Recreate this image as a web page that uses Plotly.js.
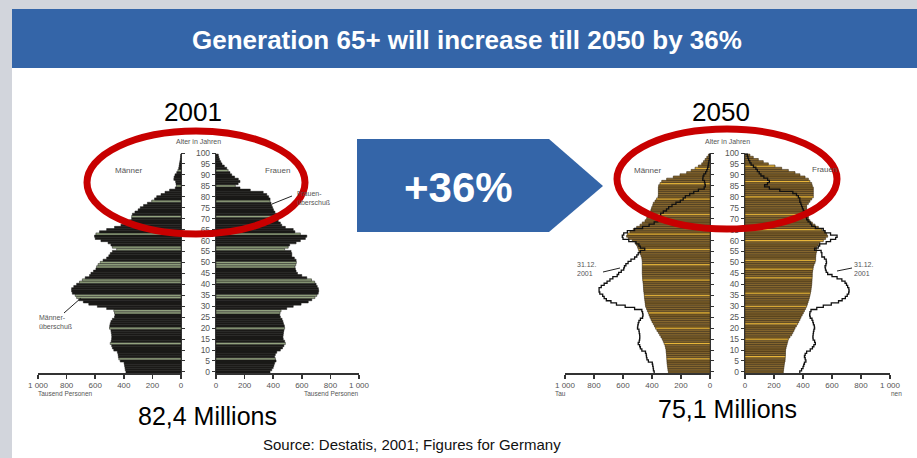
<!DOCTYPE html>
<html>
<head>
<meta charset="utf-8">
<script src="https://cdn.plot.ly/plotly-3.0.1.min.js"></script>
<style>
  html, body { margin: 0; padding: 0; background: #d2d5dc; }
  #chart { width: 917px; height: 458px; }
</style>
</head>
<body>
<div id="chart"></div>
<script>
// ---------------- DATA (thousand persons per single year of age) ----------------
const ages = Array.from({length: 100}, (_, i) => i); // 0..99
const ageTicks = [0,5,10,15,20,25,30,35,40,45,50,55,60,65,70,75,80,85,90,95,100];
const xTickVals = [0, 200, 400, 600, 800, 1000];
const xTickText = ['0', '200', '400', '600', '800', '1 000'];

const men2001 = [
  385,390,392,395,398, 425,435,438,440,445, 470,480,485,495,488, 485,484,485,488,490,
  500,498,495,490,480, 465,462,465,470,520, 585,645,683,715,730, 740,760,765,765,750,
  730,710,690,670,640, 630,612,595,590,580, 565,545,520,505,495, 480,450,480,490,510,
  560,600,605,595,570, 520,465,420,385,360, 345,345,340,322,300, 285,262,235,205,185,
  170,140,112,80,40, 32,35,38,50,48, 42,30,22,16,13, 11,8,5,3,2
];
const women2001 = [
  378,390,400,405,410, 420,415,410,415,425, 450,465,475,485,480, 470,468,470,472,475,
  480,478,472,468,462, 450,446,448,455,495, 540,595,645,670,692, 705,715,718,716,708,
  700,690,668,635,600, 570,560,555,552,558, 562,560,548,530,530, 525,480,505,515,560,
  590,625,635,590,552, 540,485,460,450,435, 425,420,425,412,402, 396,390,385,378,378,
  368,355,330,240,168, 135,155,168,156,130, 110,98,85,75,58, 42,33,25,20,16
];
const men2050 = [
  287,290,292,294,296, 297,298,299,300,302, 303,306,310,316,322, 329,338,347,356,366,
  375,383,391,400,407, 414,420,425,432,438, 444,446,448,450,452, 453,455,457,458,459,
  460,462,464,465,466, 467,467,467,467,467, 467,468,470,475,482, 490,494,499,506,517,
  536,563,575,568,552, 529,506,483,467,448, 437,431,425,414,407, 402,395,391,379,368,
  358,356,356,356,356, 354,345,333,299,253, 207,161,130,103,80, 57,45,34,22,11
];
const women2050 = [
  264,266,268,270,272, 276,277,278,279,279, 280,283,287,291,295, 299,310,322,330,338,
  345,354,363,371,379, 386,394,402,410,418, 425,430,435,440,444, 448,451,454,456,458,
  460,461,462,463,464, 464,466,469,471,476, 483,487,487,488,490, 494,494,494,506,517,
  540,556,570,563,552, 529,506,483,464,448, 437,437,437,425,425, 425,425,437,448,460,
  471,471,471,471,471, 464,460,448,437,414, 379,345,299,253,207, 161,126,92,57,34
];

// ---------------- STYLE ----------------
const W = 917, H = 458;
const px = x => x / W;
const py = y => 1 - y / H;

const stripe2001 = [6,13,20,27,28,34,35,41,42,48,49,50,56,57,63,71,78,85,92];
const stripe2050Men = [6,13,20,27,35,42,49,56,63,72,79,86,93];
const stripe2050Women = [7,15,22,30,36,43,47,51,60,65,72,80,87,94];

const BLACK = '#1b1a18', GREEN = '#93a37f';
const BROWN = '#86672e', YELLOW = '#e8b53a', DARK = '#3b2c12';
const BLUE = '#3465a8', RED = '#c80000';
const LABEL = '#555';

function bars(vals, xa, ya, base, hiAges, hi, lineColor, lineW) {
  return {
    type: 'bar', orientation: 'h', x: vals, y: ages, xaxis: xa, yaxis: ya,
    width: 1, hoverinfo: 'skip',
    marker: { color: ages.map(a => hiAges.includes(a) ? hi : base),
              line: { color: lineColor, width: lineW } }
  };
}
function outline(vals, xa, ya) {
  return {
    type: 'scatter', mode: 'lines', xaxis: xa, yaxis: ya, hoverinfo: 'skip',
    x: vals.concat([vals[vals.length - 1], 0]),
    y: ages.map(a => a - 0.5).concat([99.5, 99.5]),
    line: { shape: 'vh', color: '#111', width: 1.3 }
  };
}

const data = [
  bars(men2001, 'x', 'y', BLACK, stripe2001, GREEN, BLACK, 0.5),
  bars(women2001, 'x2', 'y2', BLACK, stripe2001, GREEN, BLACK, 0.5),
  bars(men2050, 'x3', 'y3', BROWN, stripe2050Men, YELLOW, DARK, 0.6),
  bars(women2050, 'x4', 'y4', BROWN, stripe2050Women, YELLOW, DARK, 0.6),
  outline(men2001, 'x3', 'y3'),
  outline(women2001, 'x4', 'y4')
];

const yDomain = [py(373), py(153)];
const yRange = [-0.5, 100];
const tickFont = { family: 'Liberation Sans, Arial, sans-serif', size: 8, color: LABEL };

function xAxis(domain, reversed, anchor) {
  return {
    domain: domain, anchor: anchor,
    range: reversed ? [1000, 0] : [0, 1000],
    tickvals: xTickVals, ticktext: xTickText, tickfont: tickFont,
    showline: true, linecolor: '#333', linewidth: 1.5,
    ticks: 'outside', ticklen: 4, tickwidth: 1.5, tickcolor: '#333',
    showgrid: false, zeroline: false, fixedrange: true
  };
}
function yAxis(anchor, side, labels) {
  return {
    domain: yDomain, anchor: anchor, side: side, range: yRange,
    tickvals: ageTicks, showticklabels: labels,
    tickfont: { family: 'Liberation Sans, Arial, sans-serif', size: 8.5, color: LABEL },
    showline: true, linecolor: '#333', linewidth: 1.2,
    ticks: 'outside', ticklen: 3, tickcolor: '#333',
    showgrid: false, zeroline: false, fixedrange: true
  };
}

function txt(text, x, y, size, color, opts) {
  return Object.assign({
    text: text, x: px(x), y: py(y), xref: 'paper', yref: 'paper',
    showarrow: false, xanchor: 'center', yanchor: 'middle',
    font: { family: 'Liberation Sans, Arial, sans-serif', size: size, color: color }
  }, opts || {});
}
function seg(x0, y0, x1, y1, color, w) {
  return { type: 'line', xref: 'paper', yref: 'paper', x0: px(x0), y0: py(y0), x1: px(x1), y1: py(y1),
           line: { color: color, width: w } };
}

const shapes = [
  // white slide body and blue banner
  { type: 'rect', xref: 'paper', yref: 'paper', layer: 'below', x0: px(12), x1: 1, y0: 0, y1: py(68),
    fillcolor: '#ffffff', line: { width: 0 } },
  { type: 'rect', xref: 'paper', yref: 'paper', layer: 'below', x0: px(12), x1: 1, y0: py(68), y1: py(9),
    fillcolor: BLUE, line: { width: 0 } },
  // arrow
  { type: 'path', xref: 'paper', yref: 'paper', layer: 'above',
    path: `M ${px(357)} ${py(139)} L ${px(549)} ${py(139)} L ${px(603)} ${py(186)} L ${px(549)} ${py(232)} L ${px(357)} ${py(232)} Z`,
    fillcolor: BLUE, line: { width: 0 } },
  // leader lines
  seg(272, 204, 292, 196, '#222', 1),
  seg(64, 313, 81, 298, '#222', 1),
  seg(603, 272, 620, 268, '#222', 1),
  seg(852, 268, 837, 271, '#222', 1),
  // red ellipses
  { type: 'circle', xref: 'paper', yref: 'paper', layer: 'above',
    x0: px(87), x1: px(305), y0: py(234), y1: py(131), line: { color: RED, width: 7 } },
  { type: 'circle', xref: 'paper', yref: 'paper', layer: 'above',
    x0: px(617), x1: px(837), y0: py(229), y1: py(129), line: { color: RED, width: 7 } }
];

const annotations = [
  txt('<b>Generation 65+ will increase till 2050 by 36%</b>', 467, 40, 26, '#ffffff'),
  txt('2001', 193, 112, 26, '#000'),
  txt('2050', 721, 112, 26, '#000'),
  txt('<b>+36%</b>', 458, 187, 42, '#ffffff'),
  txt('82,4 Millions', 207, 416, 25, '#000'),
  txt('75,1 Millions', 727, 409, 25, '#000'),
  txt('Source: Destatis, 2001; Figures for Germany', 412, 444, 15, '#111'),
  txt('Alter in Jahren', 198, 142, 7, LABEL),
  txt('Alter in Jahren', 727, 142, 7, LABEL),
  txt('Männer', 128, 170, 8, LABEL),
  txt('Frauen', 277, 170, 8, LABEL),
  txt('Männer', 647, 170, 8, LABEL),
  txt('Frauen', 824, 169, 8, LABEL),
  txt('Frauen-<br>überschuß', 295, 198, 7, LABEL, { xanchor: 'left', align: 'left' }),
  txt('Männer-<br>überschuß', 37, 322, 7, LABEL, { xanchor: 'left', align: 'left' }),
  txt('31.12.<br>2001', 575, 269, 7, LABEL, { xanchor: 'left', align: 'left' }),
  txt('31.12.<br>2001', 852, 269, 7, LABEL, { xanchor: 'left', align: 'left' }),
  txt('Tausend Personen', 36, 393, 6.5, LABEL, { xanchor: 'left' }),
  txt('Tausend Personen', 361, 393, 6.5, LABEL, { xanchor: 'right' }),
  txt('Tau', 553, 393, 6.5, LABEL, { xanchor: 'left' }),
  txt('nen', 904, 393, 6.5, LABEL, { xanchor: 'right' })
];

const layout = {
  width: W, height: H, margin: { l: 0, r: 0, t: 0, b: 0 },
  paper_bgcolor: '#d2d5dc', plot_bgcolor: 'rgba(0,0,0,0)',
  showlegend: false, bargap: 0, barmode: 'overlay',
  xaxis: xAxis([px(38), px(181)], true, 'y'),
  xaxis2: xAxis([px(216), px(359)], false, 'y2'),
  xaxis3: xAxis([px(565), px(710)], true, 'y3'),
  xaxis4: xAxis([px(745), px(890)], false, 'y4'),
  yaxis: yAxis('x', 'right', false),
  yaxis2: yAxis('x2', 'left', true),
  yaxis3: yAxis('x3', 'right', false),
  yaxis4: yAxis('x4', 'left', true),
  shapes: shapes,
  annotations: annotations
};

Plotly.newPlot('chart', data, layout, { staticPlot: true, displayModeBar: false });
</script>
</body>
</html>
